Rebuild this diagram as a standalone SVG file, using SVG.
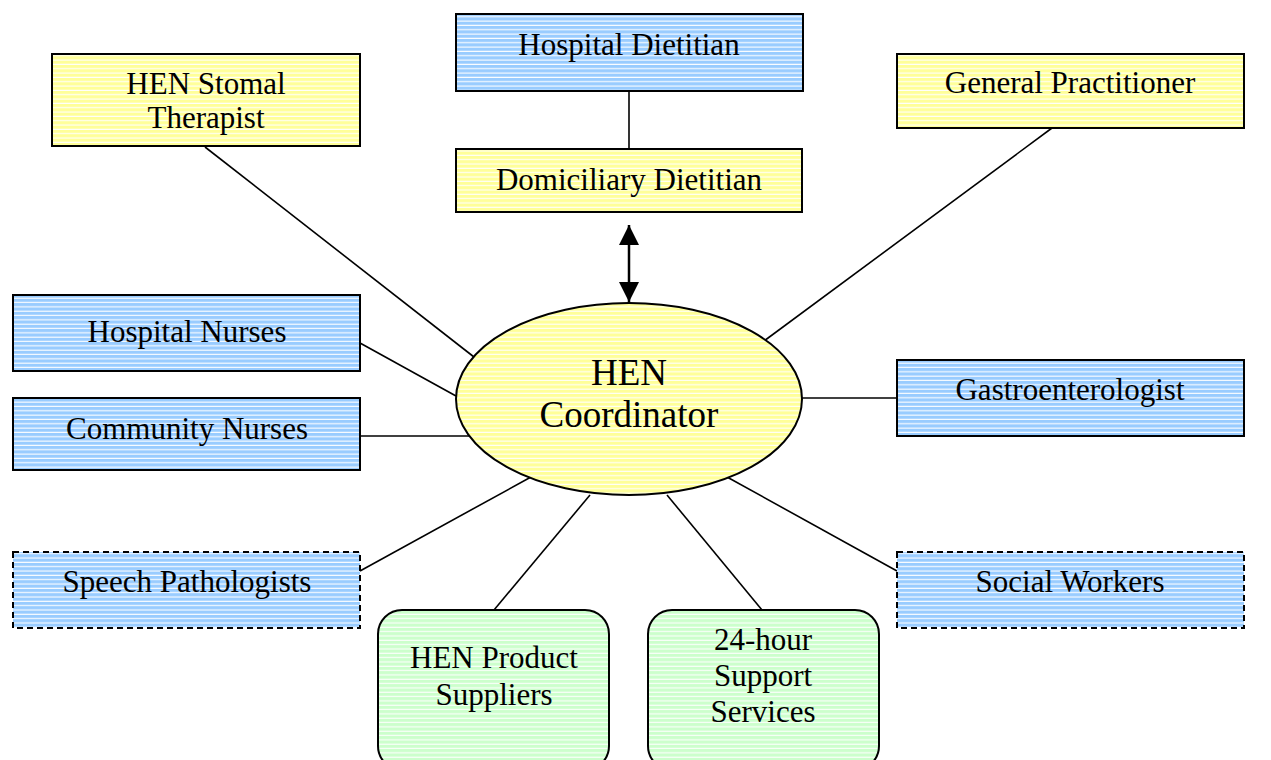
<svg xmlns="http://www.w3.org/2000/svg" width="1271" height="760" viewBox="0 0 1271 760">
  <defs>
    <pattern id="stripeBlue" width="8" height="4.33" patternUnits="userSpaceOnUse">
      <rect width="8" height="4.33" fill="#99ccff"/>
      <rect y="3.2" width="8" height="1.1" fill="#ffffff"/>
    </pattern>
    <pattern id="stripeYellow" width="8" height="4.33" patternUnits="userSpaceOnUse">
      <rect width="8" height="4.33" fill="#ffff99"/>
      <rect y="3.2" width="8" height="1.1" fill="#ffffff"/>
    </pattern>
    <pattern id="stripeGreen" width="8" height="4.33" patternUnits="userSpaceOnUse">
      <rect width="8" height="4.33" fill="#ccffcc"/>
      <rect y="3.2" width="8" height="1.1" fill="#ffffff"/>
    </pattern>
    <marker id="arrow" viewBox="0 0 20 20" refX="20" refY="10" markerWidth="20" markerHeight="20" markerUnits="userSpaceOnUse" orient="auto-start-reverse">
      <path d="M0,0 L20,10 L0,20 Z" fill="#000"/>
    </marker>
  </defs>
  <style>
    .blue { fill: url(#stripeBlue); stroke: #000; stroke-width: 2; }
    .yellow { fill: url(#stripeYellow); stroke: #000; stroke-width: 2; }
    .green { fill: url(#stripeGreen); stroke: #000; stroke-width: 2; }
    .dashed { stroke-dasharray: 6 4; }
    .lbl { font-family: "Liberation Serif", "Times New Roman", serif; font-size: 31px; fill: #000; text-anchor: middle; }
    .big { font-size: 37px; }
    .conn line { stroke: #000; stroke-width: 1.6; }
    .conn .both { stroke-width: 2.5; }
  </style>

  <g class="conn" id="connectors">
    <line x1="629" y1="91" x2="629" y2="149"/>
    <line x1="205" y1="147" x2="474" y2="357"/>
    <line x1="1052" y1="128" x2="764" y2="341"/>
    <line x1="360" y1="343" x2="456" y2="396"/>
    <line x1="360" y1="436" x2="474" y2="436"/>
    <line x1="802" y1="398" x2="897" y2="398"/>
    <line x1="360" y1="571" x2="531" y2="477"/>
    <line x1="494" y1="610" x2="590" y2="495"/>
    <line x1="762" y1="610" x2="667" y2="495"/>
    <line x1="897" y1="571" x2="727" y2="477"/>
    <line class="both" x1="629" y1="225" x2="629" y2="302" marker-start="url(#arrow)" marker-end="url(#arrow)"/>
  </g>

  <g id="hospital-dietitian">
    <rect class="blue" x="456" y="14" width="347" height="77"/>
    <text class="lbl" x="629" y="55">Hospital Dietitian</text>
  </g>
  <g id="stomal-therapist">
    <rect class="yellow" x="52" y="54" width="308" height="92"/>
    <text class="lbl" x="206" y="94">HEN Stomal</text>
    <text class="lbl" x="206" y="128">Therapist</text>
  </g>
  <g id="general-practitioner">
    <rect class="yellow" x="897" y="54" width="347" height="74"/>
    <text class="lbl" x="1070" y="93">General Practitioner</text>
  </g>
  <g id="domiciliary-dietitian">
    <rect class="yellow" x="456" y="149" width="346" height="63"/>
    <text class="lbl" x="629" y="190">Domiciliary Dietitian</text>
  </g>
  <g id="hospital-nurses">
    <rect class="blue" x="13" y="295" width="347" height="76"/>
    <text class="lbl" x="187" y="342">Hospital Nurses</text>
  </g>
  <g id="community-nurses">
    <rect class="blue" x="13" y="398" width="347" height="72"/>
    <text class="lbl" x="187" y="439">Community Nurses</text>
  </g>
  <g id="gastroenterologist">
    <rect class="blue" x="897" y="360" width="347" height="76"/>
    <text class="lbl" x="1070" y="400">Gastroenterologist</text>
  </g>
  <g id="speech-pathologists">
    <rect class="blue dashed" x="13" y="552" width="347" height="76"/>
    <text class="lbl" x="187" y="592">Speech Pathologists</text>
  </g>
  <g id="social-workers">
    <rect class="blue dashed" x="897" y="552" width="347" height="76"/>
    <text class="lbl" x="1070" y="592">Social Workers</text>
  </g>
  <g id="product-suppliers">
    <rect class="green" x="378" y="610" width="231" height="160" rx="24" ry="24"/>
    <text class="lbl" x="494" y="668">HEN Product</text>
    <text class="lbl" x="494" y="705">Suppliers</text>
  </g>
  <g id="support-services">
    <rect class="green" x="648" y="610" width="231" height="160" rx="24" ry="24"/>
    <text class="lbl" x="763" y="650">24-hour</text>
    <text class="lbl" x="763" y="686">Support</text>
    <text class="lbl" x="763" y="722">Services</text>
  </g>
  <g id="hen-coordinator">
    <ellipse class="yellow" cx="629" cy="399" rx="173" ry="96"/>
    <text class="lbl big" x="629" y="385">HEN</text>
    <text class="lbl big" x="629" y="427">Coordinator</text>
  </g>
</svg>
